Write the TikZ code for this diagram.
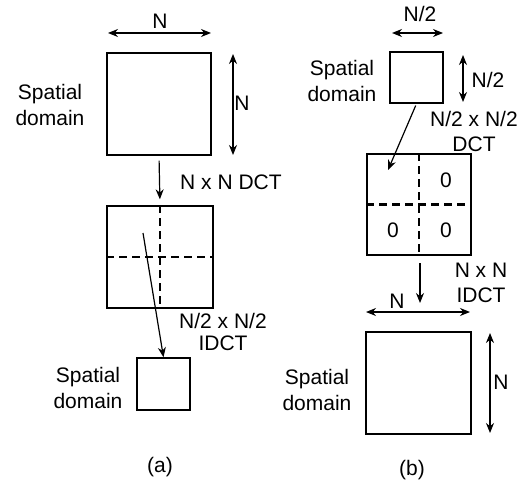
\documentclass[tikz,border=0pt]{standalone}
\usepackage{fontspec}
\setmainfont{Liberation Sans}
\usetikzlibrary{arrows.meta}
\begin{document}
\begin{tikzpicture}[x=1pt,y=-1pt,
  sq/.style={draw,line width=1.4pt,inner sep=0pt,fill=none},
  lbl/.style={font=\fontsize{21}{26}\selectfont,inner sep=0pt,align=center},
  arr/.style={line width=1.2pt,-{Stealth[length=10pt,width=8pt]}},
  dim/.style={line width=1.2pt,{Stealth[length=10pt,width=8pt]}-{Stealth[length=10pt,width=8pt]}},
  dsh/.style={line width=2.2pt,dash pattern=on 8pt off 5pt}]
\useasboundingbox (0,0) rectangle (527,484);
% (a)
\node[sq,minimum width=104pt,minimum height=102pt] (a1) at (159,104) {};
\node[sq,minimum width=106pt,minimum height=102pt] (a2) at (160,257) {};
\node[sq,minimum width=53pt,minimum height=52pt] (a3) at (163.5,384) {};
\draw[dsh] (a2.north) -- (a2.south);
\draw[dsh] (a2.west) -- (a2.east);
\coordinate (adl) at (108,33); \coordinate (adr) at (211,33);
\draw[dim] (adl) -- (adr);
\node[lbl] (aN1) at (160,21) {N};
\coordinate (avt) at (233,54); \coordinate (avb) at (233,155);
\draw[dim] (avt) -- (avb);
\node[lbl] (aN2) at (242,103) {N};
\node[lbl] (asd1) at (50,105) {Spatial\\domain};
\draw[arr,shorten <=5pt,shorten >=6pt] (a1.south) -- (a2.north);
\node[lbl,anchor=west] (adct) at (180,182) {N x N DCT};
\coordinate (astart) at (143,233);
\draw[arr] (astart) -- (a3.north);
\node[lbl,font=\fontsize{21}{22}\selectfont] (aidct) at (223,332) {N/2 x N/2\\IDCT};
\node[lbl] (asd2) at (88,388) {Spatial\\domain};
\node[lbl] (capa) at (160,467) {(a)};
% (b)
\node[sq,minimum width=53pt,minimum height=51pt] (b1) at (416.5,77.5) {};
\node[sq,minimum width=104pt,minimum height=101pt] (b2) at (419,204.5) {};
\node[sq,minimum width=105pt,minimum height=102pt] (b3) at (418.5,383) {};
\draw[dsh] (b2.north) -- (b2.south);
\draw[dsh] (b2.west) -- (b2.east);
\node[lbl] (z1) at (446,180) {0};
\node[lbl] (z2) at (393,230) {0};
\node[lbl] (z3) at (446,230) {0};
\coordinate (bdl) at (392,33); \coordinate (bdr) at (443,33);
\draw[dim] (bdl) -- (bdr);
\node[lbl] (bN1) at (420,14) {N/2};
\coordinate (bvt) at (463,55); \coordinate (bvb) at (463,102);
\draw[dim] (bvt) -- (bvb);
\node[lbl] (bN2) at (488,80) {N/2};
\node[lbl] (bsd1) at (342,81) {Spatial\\domain};
\node[lbl,font=\fontsize{21}{25}\selectfont] (bdct) at (474,131) {N/2 x N/2\\DCT};
\coordinate (bend) at (388,170);
\draw[arr,shorten <=2pt] (b1.south) -- (bend);
\coordinate (bdtop) at (420,263); \coordinate (bdbot) at (420,303);
\draw[arr] (bdtop) -- (bdbot);
\node[lbl,font=\fontsize{21}{25}\selectfont] (bidct) at (481,283) {N x N\\IDCT};
\coordinate (bhl) at (366,312); \coordinate (bhr) at (470,312);
\draw[dim] (bhl) -- (bhr);
\node[lbl] (bN3) at (397,301) {N};
\coordinate (bvt2) at (490,333); \coordinate (bvb2) at (490,433);
\draw[dim] (bvt2) -- (bvb2);
\node[lbl] (bN4) at (501,382) {N};
\node[lbl] (bsd2) at (317,390) {Spatial\\domain};
\node[lbl] (capb) at (412,470) {(b)};
\end{tikzpicture}
\end{document}
